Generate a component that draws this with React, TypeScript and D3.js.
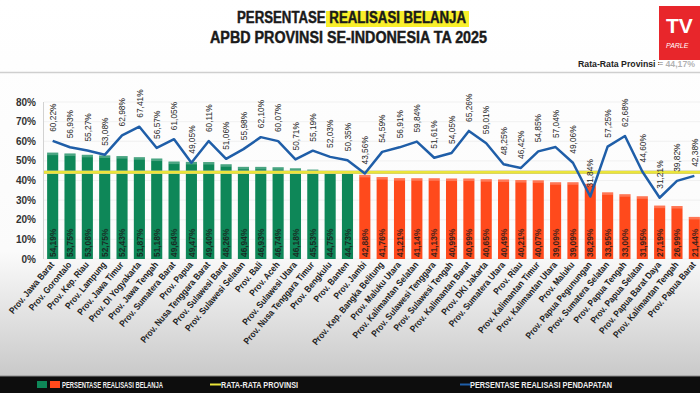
import React from 'react';
import * as d3 from 'd3';

// DATA
const provinces = [
  'Prov. Jawa Barat', 'Prov. Gorontalo', 'Prov. Kep. Riau', 'Prov. Lampung', 'Prov. Jawa Timur',
  'Prov. DI Yogyakarta', 'Prov. Jawa Tengah', 'Prov. Sumatera Barat', 'Prov. Papua',
  'Prov. Nusa Tenggara Barat', 'Prov. Sulawesi Barat', 'Prov. Sulawesi Selatan', 'Prov. Bali',
  'Prov. Aceh', 'Prov. Sulawesi Utara', 'Prov. Nusa Tenggara Timur', 'Prov. Bengkulu', 'Prov. Banten',
  'Prov. Jambi', 'Prov. Kep. Bangka Belitung', 'Prov. Maluku Utara', 'Prov. Kalimantan Selatan',
  'Prov. Sulawesi Tenggara', 'Prov. Sulawesi Tengah', 'Prov. Kalimantan Barat', 'Prov. DKI Jakarta',
  'Prov. Sumatera Utara', 'Prov. Riau', 'Prov. Kalimantan Timur', 'Prov. Kalimantan Utara',
  'Prov. Maluku', 'Prov. Papua Pegunungan', 'Prov. Sumatera Selatan', 'Prov. Papua Tengah',
  'Prov. Papua Selatan', 'Prov. Papua Barat Daya', 'Prov. Kalimantan Tengah', 'Prov. Papua Barat',
];
const belanja = [
  54.19, 53.75, 53.08, 52.75, 52.43, 51.87, 51.18, 49.64, 49.47, 49.40, 48.26, 46.94, 46.93,
  46.74, 46.18, 45.53, 44.75, 44.73,
  42.88, 41.76, 41.21, 41.14, 41.13, 40.99, 40.99, 40.65, 40.49, 40.21, 40.07, 39.09, 39.09,
  38.29, 33.95, 33.00, 31.95, 27.19, 26.99, 21.44,
];
const pendapatan = [
  60.22, 56.93, 55.27, 53.08, 62.98, 67.41, 56.57, 61.05, 49.05, 60.11, 51.06, 55.98, 62.10,
  60.07, 50.71, 55.19, 52.03, 50.35,
  43.56, 54.59, 56.91, 59.84, 51.61, 54.05, 65.26, 59.01, 48.25, 46.42, 54.85, 57.04, 49.06,
  31.84, 57.25, 62.68, 44.60, 31.21, 39.82, 42.38,
];
const rataRata = 44.17;
const yTicks = [0, 10, 20, 30, 40, 50, 60, 70, 80];

const W = 700;
const H = 393;
const font = '"Liberation Sans", Arial, sans-serif';
const green = '#0e8758';
const red = '#ff4a1c';
const blue = '#1f5ea8';
const yellow = '#ebe53a';

const fmt = (v: number) => v.toFixed(2).replace('.', ',') + '%';

export default function App() {
  const x = d3.scaleBand<string>().domain(provinces).range([44, 703]).paddingInner(0.36).paddingOuter(0.18);
  const y = d3.scaleLinear().domain([0, 80]).range([259, 102]);

  const cx = (i: number) => (x(provinces[i]) as number) + x.bandwidth() / 2;

  const line = d3.line<number>()
    .x((_, i) => cx(i))
    .y(d => y(d));

  return (
    <svg width={W} height={H} style={{ position: 'absolute', left: 0, top: 0 }} fontFamily={font}>
      <defs>
        <linearGradient id="bg" x1="0" y1="0" x2="0" y2="1">
          <stop offset="0" stopColor="#ffffff" />
          <stop offset="0.64" stopColor="#fbfbfb" />
          <stop offset="0.8" stopColor="#e2e2e2" />
          <stop offset="1" stopColor="#c2c2c2" />
        </linearGradient>
      </defs>
      <rect x={0} y={0} width={W} height={H} fill="url(#bg)" />

      {/* title */}
      <rect x={326} y={11} width={143} height={16} fill="#f8ef2a" />
      <text x={237} y={23} fontSize={16} fontWeight="bold" fill="#1a1a1a" stroke="#1a1a1a" strokeWidth={0.45}
        textLength={229} lengthAdjust="spacingAndGlyphs">PERSENTASE REALISASI BELANJA</text>
      <text x={210} y={43} fontSize={16} fontWeight="bold" fill="#1a1a1a" stroke="#1a1a1a" strokeWidth={0.45}
        textLength={277} lengthAdjust="spacingAndGlyphs">APBD PROVINSI SE-INDONESIA TA 2025</text>
      <text x={578} y={67} fontSize={9} fontWeight="bold" fill="#222" textLength={117}
        lengthAdjust="spacingAndGlyphs">Rata-Rata Provinsi = 44,17%</text>
      <rect x={659} y={60} width={41} height={9} fill="#ffffff" opacity={0.65} />
      <line x1={0} x2={W} y1={72.5} y2={72.5} stroke="#cfcfcf" strokeWidth={1.5} />

      {/* logo */}
      <rect x={659} y={6} width={41} height={54} fill="#e8262b" />
      <text x={666} y={33} fontSize={21} fontWeight="bold" fill="#fff">TV</text>
      <text x={666} y={48} fontSize={7} fontStyle="italic" fill="#fff">PARLE</text>

      {/* grid + y axis */}
      {yTicks.map(t => (
        <g key={t}>
          <line x1={44} x2={703} y1={y(t)} y2={y(t)} stroke="#eeeeee" strokeWidth={0.8} />
          <text x={36} y={y(t) + 3.5} textAnchor="end" fontSize={10} fontWeight="bold" fill="#333">{t}%</text>
        </g>
      ))}
      <line x1={43.5} x2={43.5} y1={102} y2={259} stroke="#d2d2d2" />

      {/* bars */}
      {belanja.map((v, i) => {
        const c = v >= rataRata ? green : red;
        const bx = x(provinces[i]) as number;
        return (
          <g key={i}>
            <rect x={bx} y={y(v)} width={x.bandwidth()} height={y(0) - y(v)} fill={c} />
            <rect x={bx} y={y(v)} width={x.bandwidth()} height={2.5} fill="#ffffff" opacity={0.25} />
            <text transform={`translate(${cx(i) + 3.2},${y(0) - 2}) rotate(-90) scale(0.88,1)`} fontSize={9.5}
              fontWeight="bold" fill="#1b1b1b" opacity={0.85}>{fmt(v)}</text>
          </g>
        );
      })}

      {/* average line */}
      <line x1={44} x2={703} y1={y(rataRata)} y2={y(rataRata)} stroke="#c9c58c" strokeWidth={3.6} />
      <line x1={44} x2={703} y1={y(rataRata)} y2={y(rataRata)} stroke={yellow} strokeWidth={2.4} />

      {/* pendapatan line */}
      <path d={line(pendapatan) || ''} fill="none" stroke={blue} strokeWidth={2.5} strokeLinejoin="round" />
      {pendapatan.map((v, i) => (
        <text key={i} transform={`translate(${cx(i) + 3.2},${y(v) - 9}) rotate(-90) scale(0.88,1)`} fontSize={9.5}
          fill="#2a2a2a">{fmt(v)}</text>
      ))}

      {/* x labels */}
      {provinces.map((p, i) => (
        <text key={p} transform={`translate(${cx(i) + 2},${265}) rotate(-50) scale(0.88,1)`} textAnchor="end"
          fontSize={9.2} fontWeight="bold" fill="#222">{p}</text>
      ))}

      {/* legend */}
      <rect x={0} y={376} width={W} height={17} fill="#0d0d0d" />
      <line x1={0} x2={W} y1={376} y2={376} stroke="#8a8a8a" />
      <rect x={37} y={381} width={10} height={7} fill={green} />
      <rect x={50} y={381} width={10} height={7} fill={red} />
      <text x={62} y={388} fontSize={9} fontWeight="bold" fill="#eee" textLength={101}
        lengthAdjust="spacingAndGlyphs">PERSENTASE REALISASI BELANJA</text>
      <line x1={210} x2={221} y1={384.5} y2={384.5} stroke={yellow} strokeWidth={2} />
      <text x={221} y={388} fontSize={9} fontWeight="bold" fill="#eee" textLength={77}
        lengthAdjust="spacingAndGlyphs">RATA-RATA PROVINSI</text>
      <line x1={460} x2={470} y1={384.5} y2={384.5} stroke={blue} strokeWidth={2} />
      <text x={470} y={388} fontSize={9} fontWeight="bold" fill="#eee" textLength={142}
        lengthAdjust="spacingAndGlyphs">PERSENTASE REALISASI PENDAPATAN</text>
    </svg>
  );
}
